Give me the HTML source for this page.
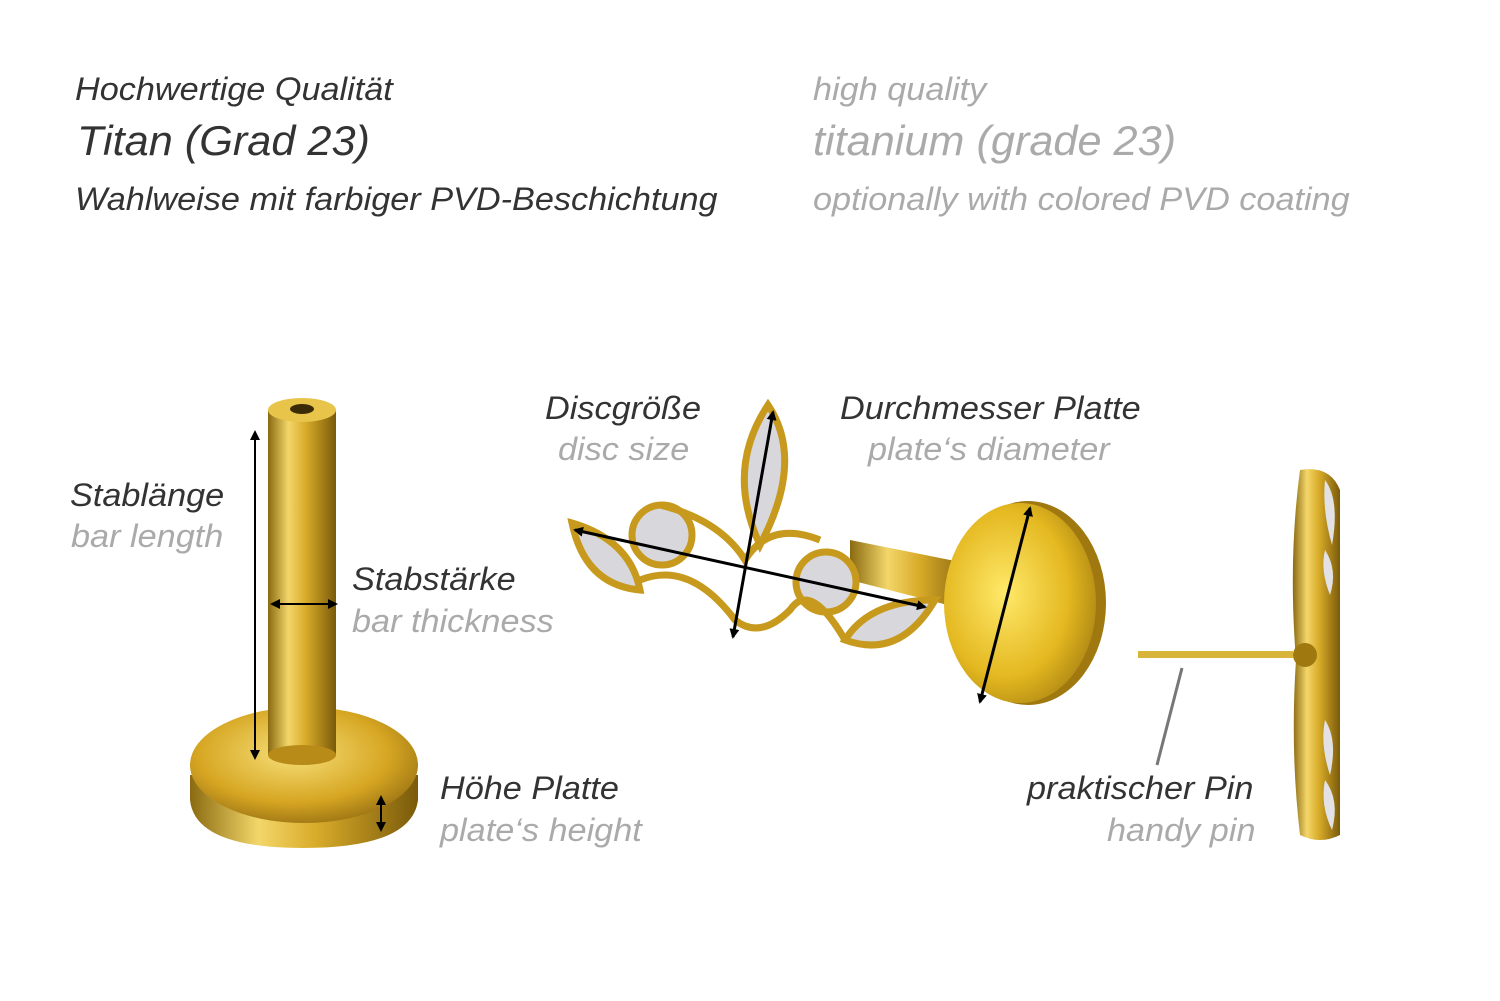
<!DOCTYPE html>
<html><head><meta charset="utf-8">
<style>
html,body{margin:0;padding:0;background:#fff;}
body{width:1500px;height:1001px;position:relative;overflow:hidden;font-family:"Liberation Sans",sans-serif;font-style:italic;}
.t{position:absolute;white-space:nowrap;line-height:1;transform:scaleX(1.07);transform-origin:0 0;}
.t.b{transform:scaleX(1.03);}
.d{color:#333;}
.g{color:#aaa;}
</style></head><body>
<svg width="1500" height="1001" style="position:absolute;left:0;top:0">
<defs>
<linearGradient id="gb" x1="0" x2="1" y1="0" y2="0">
<stop offset="0" stop-color="#8a6a10"/><stop offset="0.3" stop-color="#f3d66a"/><stop offset="0.55" stop-color="#d9ac2a"/><stop offset="1" stop-color="#7a5a0a"/></linearGradient>
<radialGradient id="gp" cx="0.45" cy="0.4" r="0.7">
<stop offset="0" stop-color="#f7e07a"/><stop offset="0.6" stop-color="#d6a622"/><stop offset="1" stop-color="#8a6410"/></radialGradient>
<radialGradient id="gd" cx="0.4" cy="0.45" r="0.7">
<stop offset="0" stop-color="#ffe96a"/><stop offset="0.6" stop-color="#e4b820"/><stop offset="1" stop-color="#a07a10"/></radialGradient>
<marker id="ah" markerWidth="10" markerHeight="10" refX="8" refY="5" orient="auto-start-reverse" markerUnits="userSpaceOnUse"><path d="M0,0 L10,5 L0,10 z" fill="#000"/></marker>
</defs>
<path d="M190,775 L190,800 Q195,848 303,848 Q412,848 418,800 L418,775 Z" fill="url(#gb)"/>
<ellipse cx="304" cy="765" rx="114" ry="58" fill="url(#gp)"/>
<rect x="268" y="410" width="68" height="345" fill="url(#gb)"/>
<ellipse cx="302" cy="755" rx="34" ry="10" fill="#b88a18"/>
<ellipse cx="302" cy="410" rx="34" ry="12" fill="#e8c44a"/>
<ellipse cx="302" cy="409" rx="12" ry="5" fill="#3a2a05"/>
<line x1="255" y1="432" x2="255" y2="758" stroke="#000" stroke-width="2" marker-start="url(#ah)" marker-end="url(#ah)"/>
<line x1="272" y1="604" x2="336" y2="604" stroke="#000" stroke-width="2" marker-start="url(#ah)" marker-end="url(#ah)"/>
<line x1="381" y1="797" x2="381" y2="830" stroke="#000" stroke-width="2" marker-start="url(#ah)" marker-end="url(#ah)"/>
<polygon points="850,540 975,565 975,612 850,580" fill="url(#gb)"/>
<ellipse cx="1028" cy="603" rx="78" ry="102" fill="#a07810"/>
<ellipse cx="1020" cy="603" rx="76" ry="100" fill="url(#gd)"/>
<g fill="#d8d8dc" stroke="#c79a1e" stroke-width="7">
<path d="M768,405 Q805,460 760,545 Q725,470 768,405 Z"/>
<path d="M572,523 Q630,540 640,590 Q585,585 572,523 Z"/>
<circle cx="662" cy="535" r="30"/>
<circle cx="826" cy="582" r="30"/>
<path d="M935,600 Q900,660 845,640 Q870,600 935,600 Z"/>
<path d="M640,580 Q690,560 735,620 Q760,640 790,610 Q810,580 845,640" fill="none"/>
<path d="M660,505 Q720,520 745,560 Q770,520 820,540" fill="none"/>
</g>
<line x1="575" y1="530" x2="925" y2="607" stroke="#000" stroke-width="3" marker-start="url(#ah)" marker-end="url(#ah)"/>
<line x1="773" y1="412" x2="733" y2="637" stroke="#000" stroke-width="3" marker-start="url(#ah)" marker-end="url(#ah)"/>
<line x1="1030" y1="508" x2="980" y2="702" stroke="#000" stroke-width="3" marker-start="url(#ah)" marker-end="url(#ah)"/>
<rect x="1138" y="651" width="155" height="7" fill="#d9b43a"/>
<line x1="1182" y1="668" x2="1157" y2="765" stroke="#777" stroke-width="3"/>
<path d="M1300,470 Q1330,465 1340,490 L1340,835 Q1320,845 1300,835 Q1290,750 1296,660 Q1288,560 1300,470 Z" fill="url(#gb)"/>
<g fill="#e2e2e6"><path d="M1325,480 Q1340,500 1332,545 Q1322,510 1325,480Z"/><path d="M1325,720 Q1338,740 1330,775 Q1320,745 1325,720Z"/><path d="M1325,780 Q1340,800 1332,830 Q1320,805 1325,780Z"/><path d="M1325,550 Q1338,570 1330,595 Q1320,570 1325,550Z"/></g>
<circle cx="1305" cy="655" r="12" fill="#a07810"/>
</svg>
<div class="t d" style="left:75px;top:73px;font-size:32px">Hochwertige Qualität</div>
<div class="t d b" style="left:77px;top:120px;font-size:42px">Titan (Grad 23)</div>
<div class="t d" style="left:75px;top:183px;font-size:32px">Wahlweise mit farbiger PVD-Beschichtung</div>
<div class="t g" style="left:813px;top:73px;font-size:32px">high quality</div>
<div class="t g b" style="left:813px;top:120px;font-size:42px">titanium (grade 23)</div>
<div class="t g" style="left:813px;top:183px;font-size:32px">optionally with colored PVD coating</div>
<div class="t d" style="left:70px;top:479px;font-size:32px">Stablänge</div>
<div class="t g" style="left:71px;top:520px;font-size:32px">bar length</div>
<div class="t d" style="left:352px;top:563px;font-size:32px">Stabstärke</div>
<div class="t g" style="left:352px;top:605px;font-size:32px">bar thickness</div>
<div class="t d" style="left:440px;top:772px;font-size:32px">Höhe Platte</div>
<div class="t g" style="left:440px;top:814px;font-size:32px">plate‘s height</div>
<div class="t d" style="left:545px;top:392px;font-size:32px">Discgröße</div>
<div class="t g" style="left:558px;top:433px;font-size:32px">disc size</div>
<div class="t d" style="left:840px;top:392px;font-size:32px">Durchmesser Platte</div>
<div class="t g" style="left:868px;top:433px;font-size:32px">plate‘s diameter</div>
<div class="t d" style="left:1027px;top:772px;font-size:32px">praktischer Pin</div>
<div class="t g" style="left:1107px;top:814px;font-size:32px">handy pin</div>
</body></html>
